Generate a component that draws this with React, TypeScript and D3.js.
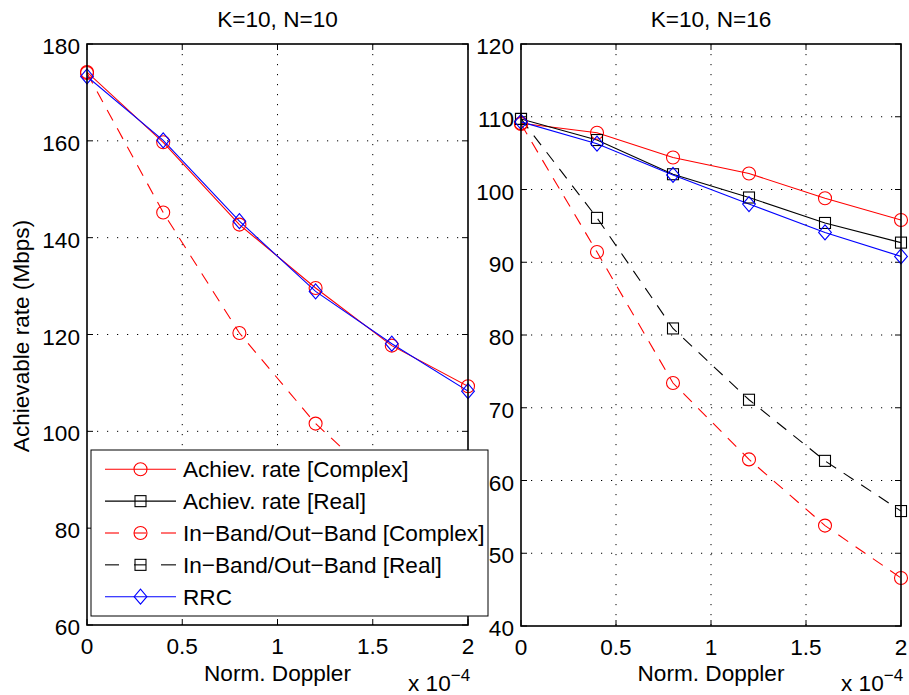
import React from "react";
import * as d3 from "d3";

const W = 909;
const H = 695;
const FONT = "'Liberation Sans', Arial, Helvetica, sans-serif";
const FS = 22.6;

const xVals = [0, 0.4, 0.8, 1.2, 1.6, 2.0];
const xTicks = [0, 0.5, 1, 1.5, 2];

// Left panel: K=10, N=10
const leftAchComplex = [174.2, 159.7, 142.7, 129.6, 117.7, 109.3];
const leftRRC = [173.3, 160.1, 143.4, 128.9, 118.1, 108.3];
const leftIBComplex = [174.0, 145.2, 120.3, 101.6, 87.0, 74.5];
const leftYTicks = [60, 80, 100, 120, 140, 160, 180];

// Right panel: K=10, N=16
const rAchComplex = [109.1, 107.8, 104.4, 102.2, 98.8, 95.8];
const rAchReal = [109.7, 106.8, 102.1, 98.9, 95.4, 92.7];
const rIBComplex = [109.0, 91.4, 73.4, 62.9, 53.8, 46.6];
const rIBReal = [109.7, 96.1, 80.9, 71.1, 62.7, 55.8];
const rRRC = [109.3, 106.3, 102.0, 98.0, 94.1, 90.8];
const rightYTicks = [40, 50, 60, 70, 80, 90, 100, 110, 120];

const legendLabels = [
  "Achiev. rate [Complex]",
  "Achiev. rate [Real]",
  "In\u2212Band/Out\u2212Band [Complex]",
  "In\u2212Band/Out\u2212Band [Real]",
  "RRC",
];

type Marker = "circle" | "square" | "diamond";
interface Series {
  values: number[];
  color: string;
  dashed: boolean;
  marker: Marker;
}

const styleAchComplex = { color: "#ff0000", dashed: false, marker: "circle" as Marker };
const styleAchReal = { color: "#000000", dashed: false, marker: "square" as Marker };
const styleIBComplex = { color: "#ff0000", dashed: true, marker: "circle" as Marker };
const styleIBReal = { color: "#000000", dashed: true, marker: "square" as Marker };
const styleRRC = { color: "#0000ff", dashed: false, marker: "diamond" as Marker };
const legendStyles = [styleAchComplex, styleAchReal, styleIBComplex, styleIBReal, styleRRC];

function MarkerShape({ m, x, y, color }: { m: Marker; x: number; y: number; color: string }) {
  if (m === "circle") return <circle cx={x} cy={y} r={6.5} fill="none" stroke={color} strokeWidth={1.1} />;
  if (m === "square")
    return <rect x={x - 5.5} y={y - 5.5} width={11} height={11} fill="none" stroke={color} strokeWidth={1.1} />;
  const r = 7.5;
  return (
    <path
      d={`M${x},${y - r}L${x + r * 0.85},${y}L${x},${y + r}L${x - r * 0.85},${y}Z`}
      fill="none"
      stroke={color}
      strokeWidth={1.1}
    />
  );
}

function Panel({
  left,
  right,
  top,
  bottom,
  yDomain,
  yTicks,
  series,
  title,
}: {
  left: number;
  right: number;
  top: number;
  bottom: number;
  yDomain: [number, number];
  yTicks: number[];
  series: Series[];
  title: string;
}) {
  const x = d3.scaleLinear().domain([0, 2]).range([left, right]);
  const y = d3.scaleLinear().domain(yDomain).range([bottom, top]);
  const line = d3
    .line<number>()
    .x((_, i) => x(xVals[i]))
    .y((v) => y(v));
  const tl = 6;
  return (
    <g>
      <defs>
        <clipPath id={`clip-${left}`}>
          <rect x={left} y={top} width={right - left} height={bottom - top} />
        </clipPath>
      </defs>
      {xTicks.map((t, i) =>
        i > 0 && i < xTicks.length - 1 ? (
          <line key={`gx${t}`} x1={x(t)} x2={x(t)} y1={top} y2={bottom} stroke="#000" strokeWidth={1} strokeDasharray="1.2,8.8" />
        ) : null
      )}
      {yTicks.map((t, i) =>
        i > 0 && i < yTicks.length - 1 ? (
          <line key={`gy${t}`} x1={left} x2={right} y1={y(t)} y2={y(t)} stroke="#000" strokeWidth={1} strokeDasharray="1.2,8.8" />
        ) : null
      )}
      {xTicks.map((t) => (
        <g key={`tx${t}`}>
          <line x1={x(t)} x2={x(t)} y1={bottom} y2={bottom - tl} stroke="#000" strokeWidth={1} />
          <line x1={x(t)} x2={x(t)} y1={top} y2={top + tl} stroke="#000" strokeWidth={1} />
          <text x={x(t)} y={bottom + 29} textAnchor="middle" fontSize={FS} fontFamily={FONT} fill="#000">
            {t}
          </text>
        </g>
      ))}
      {yTicks.map((t) => (
        <g key={`ty${t}`}>
          <line x1={left} x2={left + tl} y1={y(t)} y2={y(t)} stroke="#000" strokeWidth={1} />
          <line x1={right} x2={right - tl} y1={y(t)} y2={y(t)} stroke="#000" strokeWidth={1} />
          <text x={left - 7} y={y(t) + 10} textAnchor="end" fontSize={FS} fontFamily={FONT} fill="#000">
            {t}
          </text>
        </g>
      ))}
      <g clipPath={`url(#clip-${left})`}>
        {series.map((s, si) => (
          <path
            key={si}
            d={line(s.values) || ""}
            fill="none"
            stroke={s.color}
            strokeWidth={1.1}
            strokeDasharray={s.dashed ? "12,9" : undefined}
          />
        ))}
      </g>
      {series.map((s, si) => (
        <g key={`m${si}`}>
          {s.values.map((v, i) => (
            <MarkerShape key={i} m={s.marker} x={x(xVals[i])} y={y(v)} color={s.color} />
          ))}
        </g>
      ))}
      <rect x={left} y={top} width={right - left} height={bottom - top} fill="none" stroke="#000" strokeWidth={1.6} />
      <text x={(left + right) / 2} y={27} textAnchor="middle" fontSize={FS} fontFamily={FONT} fill="#000">
        {title}
      </text>
      <text x={(left + right) / 2} y={681} textAnchor="middle" fontSize={FS} fontFamily={FONT} fill="#000">
        Norm. Doppler
      </text>
      <text x={right - 60} y={691} fontSize={FS} fontFamily={FONT} fill="#000">
        x 10
        <tspan fontSize={17} dy={-10}>
          {"\u22124"}
        </tspan>
      </text>
    </g>
  );
}

export default function App() {
  const leftSeries: Series[] = [
    { values: leftAchComplex, ...styleAchComplex },
    { values: leftIBComplex, ...styleIBComplex },
    { values: leftRRC, ...styleRRC },
  ];
  const rightSeries: Series[] = [
    { values: rAchComplex, ...styleAchComplex },
    { values: rAchReal, ...styleAchReal },
    { values: rIBComplex, ...styleIBComplex },
    { values: rIBReal, ...styleIBReal },
    { values: rRRC, ...styleRRC },
  ];
  const legX = 91,
    legY = 450,
    legW = 397,
    legH = 166;
  return (
    <svg width={W} height={H} style={{ position: "absolute", left: 0, top: 0, background: "#fff" }}>
      <rect x={0} y={0} width={W} height={H} fill="#fff" />
      <Panel left={87} right={468} top={44} bottom={625} yDomain={[60, 180]} yTicks={leftYTicks} series={leftSeries} title="K=10, N=10" />
      <Panel left={521} right={901} top={44} bottom={626} yDomain={[40, 120]} yTicks={rightYTicks} series={rightSeries} title="K=10, N=16" />
      <text transform={`translate(29,336) rotate(-90)`} textAnchor="middle" fontSize={FS} fontFamily={FONT} fill="#000">
        Achievable rate (Mbps)
      </text>
      <rect x={legX} y={legY} width={legW} height={legH} fill="#fff" stroke="#000" strokeWidth={1} />
      {legendLabels.map((lab, i) => {
        const cy = 469.3 + i * 31.85;
        const st = legendStyles[i];
        return (
          <g key={lab}>
            {st.dashed ? (
              <g>
                <line x1={105} x2={119} y1={cy} y2={cy} stroke={st.color} strokeWidth={1.1} />
                <line x1={161} x2={176} y1={cy} y2={cy} stroke={st.color} strokeWidth={1.1} />
                <line x1={134} x2={146} y1={cy} y2={cy} stroke={st.color} strokeWidth={1.1} />
              </g>
            ) : (
              <line x1={105} x2={176} y1={cy} y2={cy} stroke={st.color} strokeWidth={1.1} />
            )}
            <MarkerShape m={st.marker} x={140.5} y={cy} color={st.color} />
            <text x={183} y={cy + 8} fontSize={FS} fontFamily={FONT} fill="#000">
              {lab}
            </text>
          </g>
        );
      })}
    </svg>
  );
}
